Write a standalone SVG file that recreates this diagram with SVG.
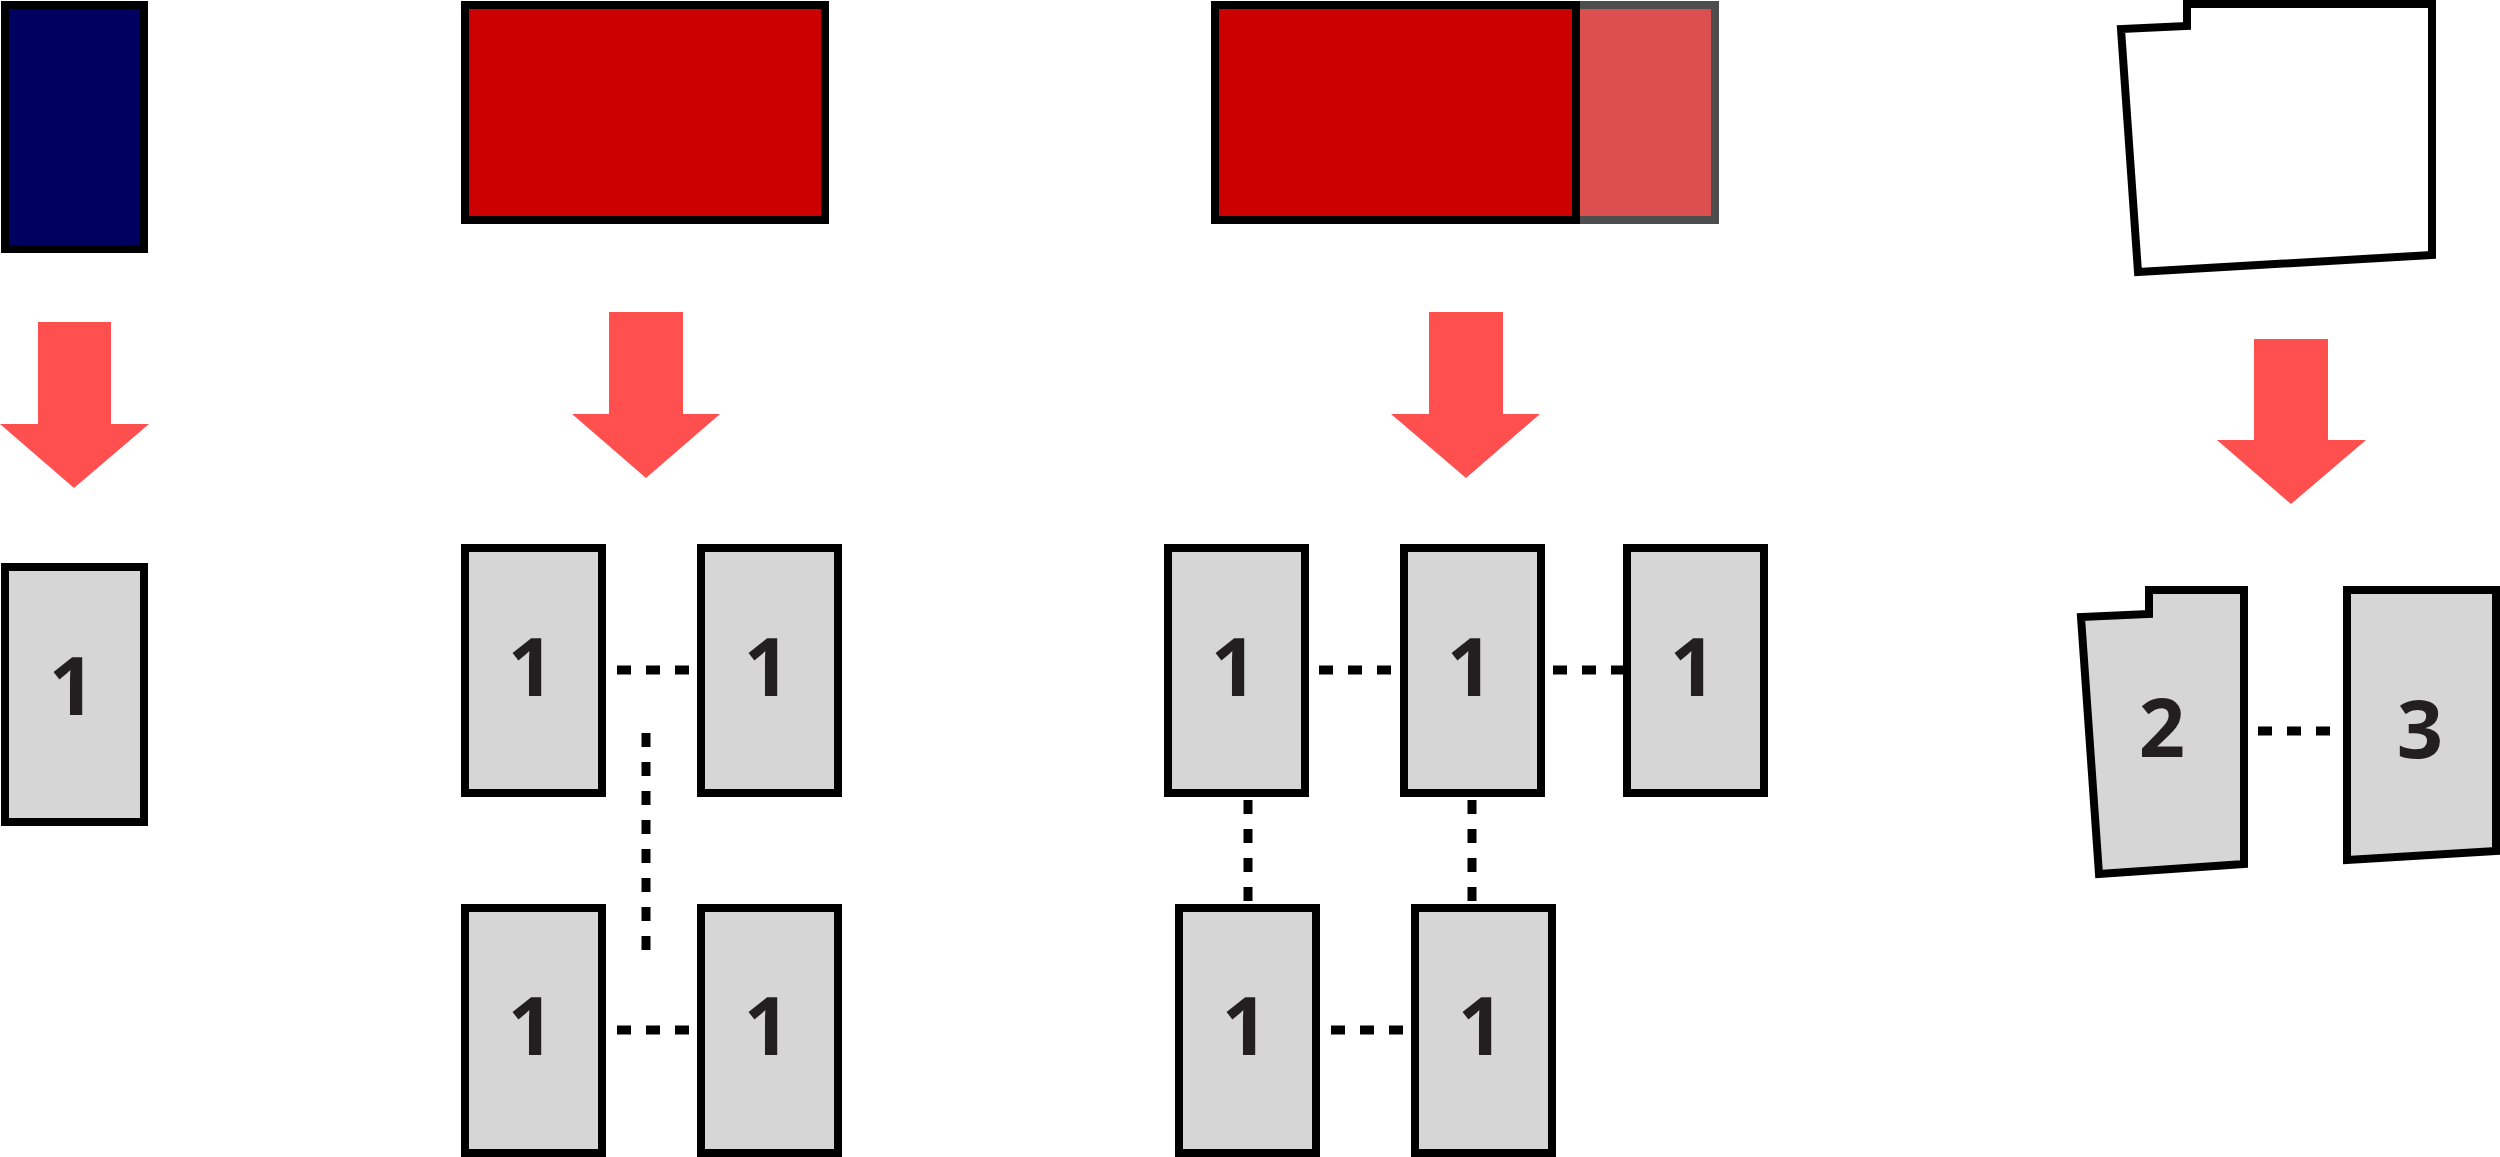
<svg xmlns="http://www.w3.org/2000/svg" width="2500" height="1157" viewBox="0 0 2500 1157">
<style>
.k{stroke:#000;stroke-width:8;stroke-linejoin:miter}
.pg{fill:#d6d6d6}
.ar{fill:#ff4f4f}
.n{font-family:"Open Sans","Liberation Sans",sans-serif;font-weight:bold;font-size:81px;fill:#231f20;text-anchor:middle}
.d{stroke:#000;stroke-width:9;stroke-dasharray:14 15;fill:none}
</style>
<rect width="2500" height="1157" fill="#fff"/>
<g id="src-blue"><rect class="k" x="5" y="5" width="139" height="244" fill="#000060"/></g>
<g id="src-red1"><rect class="k" x="465" y="5" width="360" height="215" fill="#cc0000"/></g>
<g id="src-red2">
<rect x="1500" y="5" width="215" height="215" fill="#db4f4f" stroke="#4d4d4d" stroke-width="8"/>
<rect class="k" x="1215" y="5" width="361" height="215" fill="#cc0000"/>
</g>
<g id="src-shape"><polygon class="k" fill="#fff" points="2187,4 2187,26 2121,29 2138,272 2432,255 2432,4"/></g>
<g id="arrows">
<polygon class="ar" points="38,322 111,322 111,424 149,424 74,488 0,424 38,424"/>
<polygon class="ar" points="609,312 683,312 683,414 720,414 646,478 572,414 609,414"/>
<polygon class="ar" points="1429,312 1503,312 1503,414 1540,414 1466,478 1391,414 1429,414"/>
<polygon class="ar" points="2254,339 2328,339 2328,440 2366,440 2291,504 2217,440 2254,440"/>
</g>
<g id="p-left"><rect class="k pg" x="5" y="567" width="139" height="255"/><text class="n" x="72" y="715">1</text></g>
<g id="p-m1"><rect class="k pg" x="465" y="548" width="137" height="245"/><text class="n" x="531" y="696">1</text></g>
<g id="p-m2"><rect class="k pg" x="701" y="548" width="137" height="245"/><text class="n" x="767" y="696">1</text></g>
<g id="p-m3"><rect class="k pg" x="465" y="908" width="137" height="245"/><text class="n" x="531" y="1055">1</text></g>
<g id="p-m4"><rect class="k pg" x="701" y="908" width="137" height="245"/><text class="n" x="767" y="1055">1</text></g>
<g id="p-c1"><rect class="k pg" x="1168" y="548" width="137" height="245"/><text class="n" x="1234" y="696">1</text></g>
<g id="p-c2"><rect class="k pg" x="1404" y="548" width="137" height="245"/><text class="n" x="1470" y="696">1</text></g>
<g id="p-c3"><rect class="k pg" x="1627" y="548" width="137" height="245"/><text class="n" x="1693" y="696">1</text></g>
<g id="p-c4"><rect class="k pg" x="1179" y="908" width="137" height="245"/><text class="n" x="1245" y="1055">1</text></g>
<g id="p-c5"><rect class="k pg" x="1415" y="908" width="137" height="245"/><text class="n" x="1481" y="1055">1</text></g>
<g id="p-r2"><polygon class="k pg" points="2149,590 2149,614 2081,617 2099,874 2244,864 2244,590"/><text class="n" x="2162" y="757">2</text></g>
<g id="p-r3"><polygon class="k pg" points="2347,590 2496,590 2496,851 2347,860"/><text class="n" x="2420" y="758">3</text></g>
<g id="connectors">
<line class="d" x1="617" y1="670" x2="690" y2="670"/>
<line class="d" x1="646" y1="733" x2="646" y2="952"/>
<line class="d" x1="617" y1="1030" x2="690" y2="1030"/>
<line class="d" x1="1319" y1="670" x2="1392" y2="670"/>
<line class="d" x1="1553" y1="670" x2="1627" y2="670"/>
<line class="d" x1="1248" y1="800" x2="1248" y2="902"/>
<line class="d" x1="1472" y1="800" x2="1472" y2="902"/>
<line class="d" x1="1331" y1="1030" x2="1404" y2="1030"/>
<line class="d" x1="2258" y1="731" x2="2331" y2="731"/>
</g>
</svg>
